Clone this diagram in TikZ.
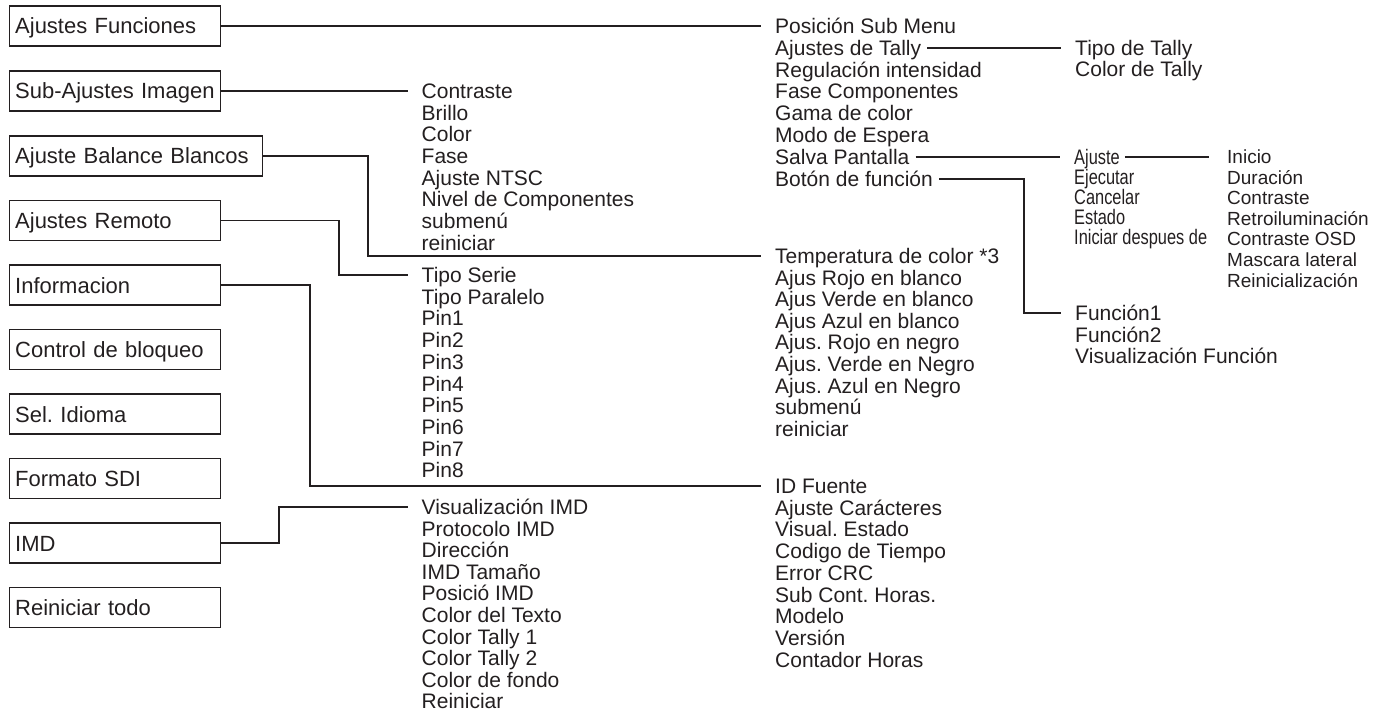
\documentclass[tikz,border=0pt]{standalone}
\usepackage{fontspec}
\setmainfont{Liberation Sans}
\newfontfamily\narrowfont[FakeStretch=0.78]{Liberation Sans}
\definecolor{ink}{RGB}{35,31,32}
\usetikzlibrary{positioning}
\frenchspacing

\begin{document}
\begin{tikzpicture}[
  x=1pt, y=-1pt,
  every node/.style={text=ink},
  menubox/.style={draw=ink,line width=1.4pt,anchor=west,minimum height=40pt,
                  text width=200pt,inner xsep=5.5pt,align=left,
                  text height=16pt,text depth=0pt,font=\fontsize{22}{26}\selectfont},
  item/.style={anchor=west,inner xsep=0pt,inner ysep=2pt,text height=15pt,text depth=0pt,
               font=\fontsize{21}{24}\selectfont},
  small/.style={item,text height=13.6pt,font=\fontsize{19}{22}\selectfont},
  narrow/.style={item,font=\narrowfont\fontsize{21}{24}\selectfont},
  link/.style={line width=1.9pt,draw=ink,shorten >=14pt},
]
  \useasboundingbox (0,0) rectangle (1386,711);

  % Main menu (left column)
  \node[menubox] (fun) at (9,26) {Ajustes Funciones};
  \node[menubox] (img) at (9,91) {Sub-Ajustes Imagen};
  \node[menubox,text width=242pt] (bal) at (9,156) {Ajuste Balance Blancos};
  \node[menubox] (rem) at (9,220.5) {Ajustes Remoto};
  \node[menubox] (inf) at (9,285) {Informacion};
  \node[menubox] (blq) at (9,349.5) {Control de bloqueo};
  \node[menubox] (idi) at (9,414) {Sel. Idioma};
  \node[menubox] (sdi) at (9,478.5) {Formato SDI};
  \node[menubox] (imd) at (9,543) {IMD};
  \node[menubox] (rst) at (9,607.5) {Reiniciar todo};

  % Sub-Ajustes Imagen
  \node[item] (c1) at (421.5,91.0) {Contraste};
  \node[item] (c2) at (421.5,112.7) {Brillo};
  \node[item] (c3) at (421.5,134.4) {Color};
  \node[item] (c4) at (421.5,156.1) {Fase};
  \node[item] (c5) at (421.5,177.8) {Ajuste NTSC};
  \node[item] (c6) at (421.5,199.5) {Nivel de Componentes};
  \node[item] (c7) at (421.5,221.2) {submenú};
  \node[item] (c8) at (421.5,242.9) {reiniciar};

  % Ajustes Remoto
  \node[item] (t1) at (421.5,275.0) {Tipo Serie};
  \node[item] (t2) at (421.5,296.7) {Tipo Paralelo};
  \node[item] (t3) at (421.5,318.4) {Pin1};
  \node[item] (t4) at (421.5,340.1) {Pin2};
  \node[item] (t5) at (421.5,361.8) {Pin3};
  \node[item] (t6) at (421.5,383.5) {Pin4};
  \node[item] (t7) at (421.5,405.2) {Pin5};
  \node[item] (t8) at (421.5,426.9) {Pin6};
  \node[item] (t9) at (421.5,448.6) {Pin7};
  \node[item] (t10) at (421.5,470.3) {Pin8};

  % IMD
  \node[item] (v1) at (421.5,507.0) {Visualización IMD};
  \node[item] (v2) at (421.5,528.6) {Protocolo IMD};
  \node[item] (v3) at (421.5,550.2) {Dirección};
  \node[item] (v4) at (421.5,571.8) {IMD Tamaño};
  \node[item] (v5) at (421.5,593.4) {Posició IMD};
  \node[item] (v6) at (421.5,615.0) {Color del Texto};
  \node[item] (v7) at (421.5,636.6) {Color Tally 1};
  \node[item] (v8) at (421.5,658.2) {Color Tally 2};
  \node[item] (v9) at (421.5,679.8) {Color de fondo};
  \node[item] (v10) at (421.5,701.4) {Reiniciar};

  % Ajustes Funciones
  \node[item] (m1) at (775,26.0) {Posición Sub Menu};
  \node[item] (m2) at (775,47.8) {Ajustes de Tally};
  \node[item] (m3) at (775,69.6) {Regulación intensidad};
  \node[item] (m4) at (775,91.4) {Fase Componentes};
  \node[item] (m5) at (775,113.2) {Gama de color};
  \node[item] (m6) at (775,135.0) {Modo de Espera};
  \node[item] (m7) at (775,156.8) {Salva Pantalla};
  \node[item] (m8) at (775,178.6) {Botón de función};

  % Ajuste Balance Blancos
  \node[item] (w1) at (775,256.0) {Temperatura de color *3};
  \node[item] (w2) at (775,277.6) {Ajus Rojo en blanco};
  \node[item] (w3) at (775,299.2) {Ajus Verde en blanco};
  \node[item] (w4) at (775,320.8) {Ajus Azul en blanco};
  \node[item] (w5) at (775,342.4) {Ajus. Rojo en negro};
  \node[item] (w6) at (775,364.0) {Ajus. Verde en Negro};
  \node[item] (w7) at (775,385.6) {Ajus. Azul en Negro};
  \node[item] (w8) at (775,407.2) {submenú};
  \node[item] (w9) at (775,428.8) {reiniciar};

  % Informacion
  \node[item] (d1) at (775,486.0) {ID Fuente};
  \node[item] (d2) at (775,507.7) {Ajuste Carácteres};
  \node[item] (d3) at (775,529.4) {Visual. Estado};
  \node[item] (d4) at (775,551.1) {Codigo de Tiempo};
  \node[item] (d5) at (775,572.8) {Error CRC};
  \node[item] (d6) at (775,594.5) {Sub Cont. Horas.};
  \node[item] (d7) at (775,616.2) {Modelo};
  \node[item] (d8) at (775,637.9) {Versión};
  \node[item] (d9) at (775,659.6) {Contador Horas};

  % Tally, Salva Pantalla, Boton de funcion
  \node[item] (ta1) at (1075,47.8) {Tipo de Tally};
  \node[item] (ta2) at (1075,69.5) {Color de Tally};
  \node[narrow] (s1) at (1074,156.8) {Ajuste};
  \node[narrow] (s2) at (1074,176.8) {Ejecutar};
  \node[narrow] (s3) at (1074,196.8) {Cancelar};
  \node[narrow] (s4) at (1074,216.8) {Estado};
  \node[narrow] (s5) at (1074,236.8) {Iniciar despues de};
  \node[item] (f1) at (1075,313.0) {Función1};
  \node[item] (f2) at (1075,334.7) {Función2};
  \node[item] (f3) at (1075,356.4) {Visualización Función};

  % Ajuste (salva pantalla)
  \node[small] (r1) at (1227,156.8) {Inicio};
  \node[small] (r2) at (1227,177.4) {Duración};
  \node[small] (r3) at (1227,198.0) {Contraste};
  \node[small] (r4) at (1227,218.6) {Retroiluminación};
  \node[small] (r5) at (1227,239.2) {Contraste OSD};
  \node[small] (r6) at (1227,259.8) {Mascara lateral};
  \node[small] (r7) at (1227,280.4) {Reinicialización};

  % Main menu -> sub menus
  \draw[link] (fun.east) -- (m1.west);
  \draw[link] (img.east) -- (c1.west);
  \draw[link] (bal.east) -| ([xshift=-407pt]w1.west) -- (w1.west);
  \draw[link] (rem.east) -| ([xshift=-82.5pt]t1.west) -- (t1.west);
  \draw[link] (inf.east) -| ([xshift=-465pt]d1.west) -- (d1.west);
  \draw[link] (imd.east) -| ([xshift=-142.5pt]v1.west) -- (v1.west);

  % Sub menus -> sub-sub menus
  \draw[link,shorten <=6pt] (m2.east) -- (ta1.west);
  \draw[link,shorten <=6pt] (m7.east) -- (s1.west);
  \draw[link,shorten <=6pt] (m8.east) -| ([xshift=-51pt]f1.west) -- (f1.west);
  \draw[link,shorten <=5pt,shorten >=18pt] (s1.east) -- (r1.west);
\end{tikzpicture}
\end{document}
